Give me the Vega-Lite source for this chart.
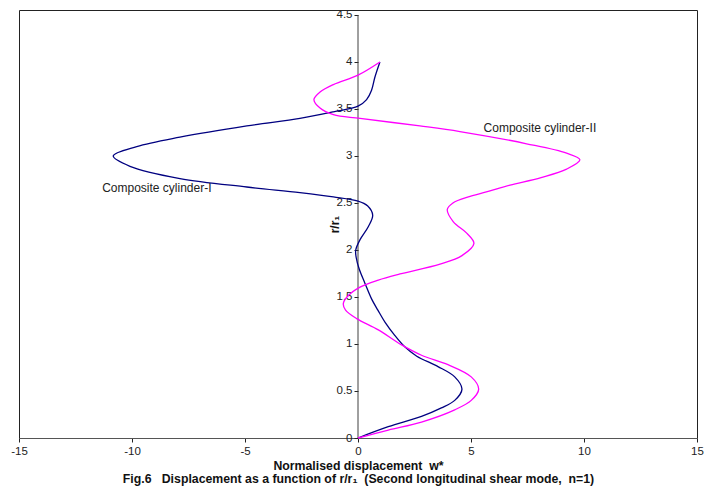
{
  "$schema": "https://vega.github.io/schema/vega-lite/v6.json",
  "width": 678,
  "height": 428,
  "autosize": {"type": "none"},
  "padding": {"left": 19, "top": 10, "right": 10, "bottom": 49},
  "background": "#ffffff",
  "config": {
    "view": {"stroke": "#222222", "strokeWidth": 1},
    "font": "Liberation Sans",
    "axis": {"grid": false, "labelFont": "Liberation Sans", "titleFont": "Liberation Sans", "labelColor": "#222222", "tickColor": "#222222", "labelFontSize": 11.5}
  },
  "datasets": {
    "curves": [
      {"series": "Composite cylinder-I", "w": 0, "r": 0},
      {"series": "Composite cylinder-I", "w": 1.34, "r": 0.12},
      {"series": "Composite cylinder-I", "w": 2.81, "r": 0.23},
      {"series": "Composite cylinder-I", "w": 3.69, "r": 0.32},
      {"series": "Composite cylinder-I", "w": 4.28, "r": 0.4},
      {"series": "Composite cylinder-I", "w": 4.6, "r": 0.52},
      {"series": "Composite cylinder-I", "w": 4.28, "r": 0.65},
      {"series": "Composite cylinder-I", "w": 3.54, "r": 0.76},
      {"series": "Composite cylinder-I", "w": 2.6, "r": 0.87},
      {"series": "Composite cylinder-I", "w": 2.07, "r": 0.97},
      {"series": "Composite cylinder-I", "w": 1.6, "r": 1.1},
      {"series": "Composite cylinder-I", "w": 1.2, "r": 1.23},
      {"series": "Composite cylinder-I", "w": 0.88, "r": 1.36},
      {"series": "Composite cylinder-I", "w": 0.6, "r": 1.48},
      {"series": "Composite cylinder-I", "w": 0.3, "r": 1.65},
      {"series": "Composite cylinder-I", "w": 0.05, "r": 1.8},
      {"series": "Composite cylinder-I", "w": -0.08, "r": 1.92},
      {"series": "Composite cylinder-I", "w": -0.1, "r": 2.0},
      {"series": "Composite cylinder-I", "w": 0.09, "r": 2.11},
      {"series": "Composite cylinder-I", "w": 0.46, "r": 2.25},
      {"series": "Composite cylinder-I", "w": 0.65, "r": 2.37},
      {"series": "Composite cylinder-I", "w": 0.42, "r": 2.47},
      {"series": "Composite cylinder-I", "w": 0.0, "r": 2.52},
      {"series": "Composite cylinder-I", "w": -1.09, "r": 2.565},
      {"series": "Composite cylinder-I", "w": -2.57, "r": 2.61},
      {"series": "Composite cylinder-I", "w": -4.92, "r": 2.67},
      {"series": "Composite cylinder-I", "w": -7.88, "r": 2.76},
      {"series": "Composite cylinder-I", "w": -10.09, "r": 2.89},
      {"series": "Composite cylinder-I", "w": -10.83, "r": 3.0},
      {"series": "Composite cylinder-I", "w": -9.79, "r": 3.1},
      {"series": "Composite cylinder-I", "w": -7.88, "r": 3.2},
      {"series": "Composite cylinder-I", "w": -4.92, "r": 3.32},
      {"series": "Composite cylinder-I", "w": -2.57, "r": 3.4},
      {"series": "Composite cylinder-I", "w": -1.09, "r": 3.47},
      {"series": "Composite cylinder-I", "w": 0.0, "r": 3.53},
      {"series": "Composite cylinder-I", "w": 0.38, "r": 3.6},
      {"series": "Composite cylinder-I", "w": 0.6, "r": 3.7},
      {"series": "Composite cylinder-I", "w": 0.75, "r": 3.84},
      {"series": "Composite cylinder-I", "w": 0.97, "r": 4.0},
      {"series": "Composite cylinder-II", "w": 0, "r": 0},
      {"series": "Composite cylinder-II", "w": 1.34, "r": 0.085},
      {"series": "Composite cylinder-II", "w": 2.81, "r": 0.17},
      {"series": "Composite cylinder-II", "w": 4.28, "r": 0.3},
      {"series": "Composite cylinder-II", "w": 5.01, "r": 0.4},
      {"series": "Composite cylinder-II", "w": 5.34, "r": 0.52},
      {"series": "Composite cylinder-II", "w": 5.01, "r": 0.65},
      {"series": "Composite cylinder-II", "w": 3.98, "r": 0.78},
      {"series": "Composite cylinder-II", "w": 2.81, "r": 0.88},
      {"series": "Composite cylinder-II", "w": 1.93, "r": 0.99},
      {"series": "Composite cylinder-II", "w": 0.9, "r": 1.15},
      {"series": "Composite cylinder-II", "w": -0.06, "r": 1.27},
      {"series": "Composite cylinder-II", "w": -0.55, "r": 1.36},
      {"series": "Composite cylinder-II", "w": -0.65, "r": 1.43},
      {"series": "Composite cylinder-II", "w": -0.45, "r": 1.51},
      {"series": "Composite cylinder-II", "w": 0.09, "r": 1.605},
      {"series": "Composite cylinder-II", "w": 0.9, "r": 1.68},
      {"series": "Composite cylinder-II", "w": 1.86, "r": 1.745},
      {"series": "Composite cylinder-II", "w": 3.63, "r": 1.85},
      {"series": "Composite cylinder-II", "w": 4.6, "r": 1.94},
      {"series": "Composite cylinder-II", "w": 5.13, "r": 2.07},
      {"series": "Composite cylinder-II", "w": 4.81, "r": 2.18},
      {"series": "Composite cylinder-II", "w": 4.22, "r": 2.3},
      {"series": "Composite cylinder-II", "w": 3.95, "r": 2.43},
      {"series": "Composite cylinder-II", "w": 4.2, "r": 2.5},
      {"series": "Composite cylinder-II", "w": 4.96, "r": 2.57},
      {"series": "Composite cylinder-II", "w": 5.84, "r": 2.63},
      {"series": "Composite cylinder-II", "w": 6.73, "r": 2.69},
      {"series": "Composite cylinder-II", "w": 8.1, "r": 2.77},
      {"series": "Composite cylinder-II", "w": 9.23, "r": 2.86},
      {"series": "Composite cylinder-II", "w": 9.82, "r": 2.96},
      {"series": "Composite cylinder-II", "w": 9.23, "r": 3.03},
      {"series": "Composite cylinder-II", "w": 7.46, "r": 3.13},
      {"series": "Composite cylinder-II", "w": 4.51, "r": 3.26},
      {"series": "Composite cylinder-II", "w": 2.74, "r": 3.32},
      {"series": "Composite cylinder-II", "w": 0.09, "r": 3.4},
      {"series": "Composite cylinder-II", "w": -1.09, "r": 3.44},
      {"series": "Composite cylinder-II", "w": -1.68, "r": 3.51},
      {"series": "Composite cylinder-II", "w": -1.95, "r": 3.6},
      {"series": "Composite cylinder-II", "w": -1.68, "r": 3.68},
      {"series": "Composite cylinder-II", "w": -1.09, "r": 3.76},
      {"series": "Composite cylinder-II", "w": 0.0, "r": 3.86},
      {"series": "Composite cylinder-II", "w": 0.97, "r": 4.0}
    ],
    "labels": [
      {"label": "Composite cylinder-I", "w": -8.9, "r": 2.66},
      {"label": "Composite cylinder-II", "w": 8.05, "r": 3.295}
    ],
    "yaxisline": [
      {"w": 0, "r": 0, "r2": 4.5}
    ]
  },
  "layer": [
    {
      "data": {"name": "yaxisline"},
      "mark": {"type": "rule", "color": "#404040", "strokeWidth": 1},
      "encoding": {
        "x": {"field": "w", "type": "quantitative", "scale": {"domain": [-15, 15], "nice": false}},
        "y": {"field": "r", "type": "quantitative", "scale": {"domain": [0, 4.553], "nice": false}},
        "y2": {"field": "r2"}
      }
    },
    {
      "data": {"name": "curves"},
      "mark": {"type": "line", "interpolate": "catmull-rom", "strokeWidth": 1.3},
      "encoding": {
        "x": {
          "field": "w", "type": "quantitative",
          "scale": {"domain": [-15, 15], "nice": false},
          "axis": {
            "orient": "bottom",
            "values": [-15, -10, -5, 0, 5, 10, 15],
            "labelExpr": "'' + datum.value",
            "tickSize": 4,
            "domainColor": "#555555",
            "labelPadding": 3,
            "labelFlush": false,
            "title": ["Normalised\u00a0displacement\u00a0\u00a0w*", "Fig.6\u00a0\u00a0\u00a0Displacement\u00a0as\u00a0a\u00a0function\u00a0of\u00a0r/r\u2081\u00a0\u00a0(Second\u00a0longitudinal\u00a0shear\u00a0mode,\u00a0\u00a0n=1)"],
            "titleFontSize": 12.3,
            "titleFontWeight": "bold",
            "titleColor": "#111111",
            "titleLineHeight": 13,
            "titlePadding": 3
          }
        },
        "y": {
          "field": "r", "type": "quantitative",
          "scale": {"domain": [0, 4.553], "nice": false},
          "axis": {
            "orient": "left",
            "offset": -339,
            "domain": false,
            "values": [0, 0.5, 1, 1.5, 2, 2.5, 3, 3.5, 4, 4.5],
            "labelExpr": "'' + datum.value",
            "tickSize": 4,
            "labelPadding": 2,
            "labelFlush": false,
            "title": "r/r\u2081",
            "titleFontSize": 12,
            "titleFontWeight": "bold",
            "titleColor": "#111111",
            "titleAngle": -90,
            "titleX": -24,
            "titleY": 214,
            "titleAlign": "center",
            "titleBaseline": "middle"
          }
        },
        "color": {
          "field": "series", "type": "nominal",
          "scale": {"domain": ["Composite cylinder-I", "Composite cylinder-II"], "range": ["#000080", "#FF00FF"]},
          "legend": null
        },
        "order": {"field": "r", "type": "quantitative"}
      }
    },
    {
      "data": {"name": "labels"},
      "mark": {"type": "text", "fontSize": 12, "color": "#222222", "align": "center", "baseline": "middle"},
      "encoding": {
        "x": {"field": "w", "type": "quantitative"},
        "y": {"field": "r", "type": "quantitative"},
        "text": {"field": "label"}
      }
    }
  ]
}
